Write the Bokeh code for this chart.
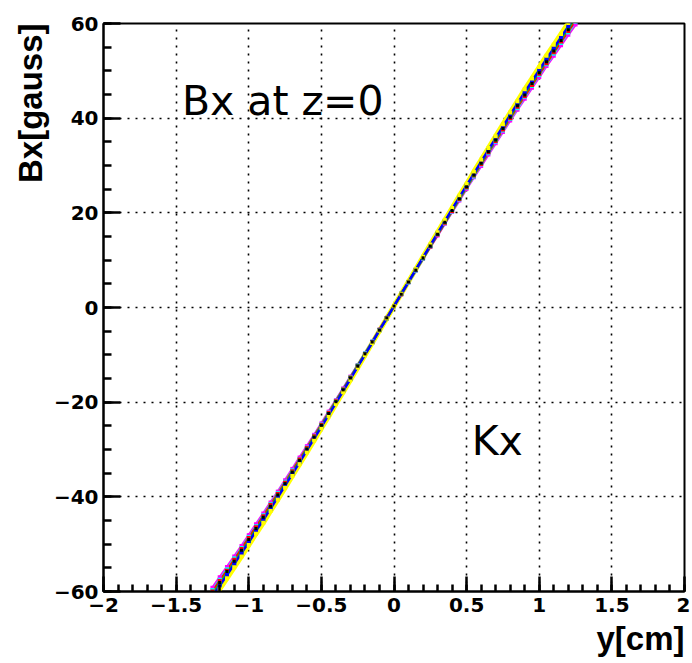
from bokeh.plotting import figure
from bokeh.models import (Range1d, SingleIntervalTicker, Title, Label,
                          ColumnDataSource, CustomJSTickFormatter)
from bokeh.embed import file_html
from bokeh.resources import INLINE

# ---- data ----
y_cm = [-1.25, -1.2, -1.15, -1.1, -1.05, -1.0, -0.95, -0.9, -0.85, -0.8,
        -0.75, -0.7, -0.65, -0.6, -0.55, -0.5, -0.45, -0.4, -0.35, -0.3,
        -0.25, -0.2, -0.15, -0.1, -0.05, 0.0, 0.05, 0.1, 0.15, 0.2,
        0.25, 0.3, 0.35, 0.4, 0.45, 0.5, 0.55, 0.6, 0.65, 0.7,
        0.75, 0.8, 0.85, 0.9, 0.95, 1.0, 1.05, 1.1, 1.15, 1.2, 1.25]

bx_black = [-60.3, -58.1, -55.8, -53.6, -51.3, -49.0, -46.7, -44.3, -42.0, -39.6,
            -37.2, -34.8, -32.3, -29.9, -27.4, -24.9, -22.4, -19.9, -17.4, -14.9,
            -12.4, -9.8, -7.3, -4.8, -2.2, 0.3, 2.8, 5.4, 7.9, 10.5,
            13.0, 15.5, 18.0, 20.5, 23.0, 25.5, 28.0, 30.5, 32.9, 35.4,
            37.8, 40.2, 42.6, 44.9, 47.3, 49.6, 51.9, 54.2, 56.4, 58.7, 60.9]
bx_yellow = [-61.8, -59.5, -57.2, -54.9, -52.6, -50.2, -47.8, -45.5, -43.0, -40.6,
             -38.1, -35.6, -33.1, -30.6, -28.1, -25.5, -23.0, -20.4, -17.9, -15.3,
             -12.7, -10.1, -7.5, -4.9, -2.3, 0.3, 2.9, 5.5, 8.1, 10.7,
             13.3, 15.9, 18.5, 21.0, 23.6, 26.1, 28.7, 31.2, 33.7, 36.2,
             38.7, 41.2, 43.6, 46.1, 48.4, 50.8, 53.2, 55.5, 57.8, 60.1, 62.4]
bx_blue = [-61.0, -58.8, -56.5, -54.2, -51.9, -49.6, -47.2, -44.9, -42.5, -40.1,
           -37.6, -35.2, -32.7, -30.2, -27.7, -25.2, -22.7, -20.2, -17.6, -15.1,
           -12.5, -10.0, -7.4, -4.8, -2.3, 0.3, 2.9, 5.4, 8.0, 10.6,
           13.1, 15.7, 18.2, 20.8, 23.3, 25.8, 28.3, 30.8, 33.3, 35.8,
           38.2, 40.7, 43.1, 45.5, 47.8, 50.2, 52.5, 54.8, 57.1, 59.4, 61.6]
bx_green = [-60.6, -58.4, -56.1, -53.9, -51.6, -49.3, -46.9, -44.6, -42.2, -39.8,
            -37.4, -34.9, -32.5, -30.0, -27.5, -25.0, -22.5, -20.0, -17.5, -15.0,
            -12.4, -9.9, -7.4, -4.8, -2.3, 0.3, 2.9, 5.4, 8.0, 10.5,
            13.0, 15.6, 18.1, 20.6, 23.1, 25.6, 28.1, 30.6, 33.1, 35.5,
            38.0, 40.4, 42.8, 45.2, 47.5, 49.9, 52.2, 54.5, 56.7, 59.0, 61.2]
bx_red = [-60.0, -57.8, -55.6, -53.3, -51.0, -48.7, -46.4, -44.1, -41.7, -39.4,
          -37.0, -34.6, -32.1, -29.7, -27.2, -24.8, -22.3, -19.8, -17.3, -14.8,
          -12.3, -9.8, -7.3, -4.7, -2.2, 0.3, 2.8, 5.4, 7.9, 10.4,
          12.9, 15.4, 17.9, 20.4, 22.9, 25.4, 27.9, 30.3, 32.8, 35.2,
          37.6, 40.0, 42.4, 44.7, 47.0, 49.4, 51.6, 53.9, 56.2, 58.4, 60.6]
bx_cyan = [-59.7, -57.5, -55.3, -53.0, -50.8, -48.5, -46.2, -43.9, -41.5, -39.2,
           -36.8, -34.4, -32.0, -29.6, -27.1, -24.7, -22.2, -19.7, -17.2, -14.7,
           -12.2, -9.7, -7.2, -4.7, -2.2, 0.3, 2.8, 5.3, 7.8, 10.3,
           12.9, 15.4, 17.8, 20.3, 22.8, 25.3, 27.7, 30.2, 32.6, 35.0,
           37.4, 39.8, 42.1, 44.5, 46.8, 49.1, 51.4, 53.6, 55.9, 58.1, 60.3]
bx_magenta = [-59.2, -57.0, -54.8, -52.6, -50.4, -48.1, -45.8, -43.5, -41.2, -38.9,
              -36.5, -34.1, -31.7, -29.3, -26.9, -24.5, -22.0, -19.6, -17.1, -14.6,
              -12.2, -9.7, -7.2, -4.7, -2.2, 0.3, 2.8, 5.3, 7.8, 10.3,
              12.8, 15.2, 17.7, 20.2, 22.6, 25.1, 27.5, 29.9, 32.3, 34.7,
              37.1, 39.5, 41.8, 44.1, 46.4, 48.7, 51.0, 53.2, 55.4, 57.6, 59.8]

colors = {"yellow": "#ffff00", "magenta": "#ff00ff", "cyan": "#00ffff",
          "red": "#ff0000", "green": "#00e000", "blue": "#0000ff", "black": "#000000"}
data = {"yellow": bx_yellow, "magenta": bx_magenta, "cyan": bx_cyan,
        "red": bx_red, "green": bx_green, "blue": bx_blue, "black": bx_black}

x_title = "y[cm]"
y_title = "Bx[gauss]"
note1 = "Bx at z=0"
note2 = "Kx"

# ---- figure ----
p = figure(width=690, height=662, x_range=Range1d(-2, 2), y_range=Range1d(-60, 60),
           output_backend="svg", toolbar_location=None,
           min_border_left=103, min_border_right=6, min_border_top=23,
           min_border_bottom=71)
p.background_fill_color = "white"
p.border_fill_color = "white"
p.outline_line_color = "black"
p.outline_line_width = 2

sources = {k: ColumnDataSource(data=dict(x=y_cm, y=v)) for k, v in data.items()}

p.line("x", "y", source=sources["yellow"], line_color=colors["yellow"], line_width=5)
for k in ("magenta", "cyan", "red", "green", "blue"):
    p.line("x", "y", source=sources[k], line_color=colors[k], line_width=2.5)
for k in ("magenta", "cyan", "red", "green", "blue", "yellow"):
    p.scatter("x", "y", source=sources[k], marker="square", size=4,
              fill_color=colors[k], line_color=None)
p.scatter("x", "y", source=sources["black"], marker="square", size=3,
          fill_color="black", line_color=None)

fmt = CustomJSTickFormatter(code="""
const v = Math.round(tick * 10) / 10;
return (v < 0 ? "\\u2212" : "") + String(Math.abs(v));
""")

p.xaxis.ticker = SingleIntervalTicker(interval=0.5, num_minor_ticks=5)
p.yaxis.ticker = SingleIntervalTicker(interval=20, num_minor_ticks=4)
for ax in (p.xaxis[0], p.yaxis[0]):
    ax.formatter = fmt
    ax.axis_line_color = "black"
    ax.axis_line_width = 2
    ax.major_tick_line_color = "black"
    ax.major_tick_line_width = 2.5
    ax.minor_tick_line_color = "black"
    ax.minor_tick_line_width = 2.5
    ax.major_tick_out = 0
    ax.minor_tick_out = 0
    ax.major_label_text_font = "DejaVu Sans"
    ax.major_label_text_font_style = "bold"
    ax.major_label_text_font_size = "20px"
    ax.major_label_text_color = "black"
p.xaxis.major_tick_in = 15
p.xaxis.minor_tick_in = 7
p.yaxis.major_tick_in = 17
p.yaxis.minor_tick_in = 8
p.xaxis.major_label_standoff = 6
p.yaxis.major_label_standoff = 5

for g in (p.xgrid[0], p.ygrid[0]):
    g.grid_line_color = "black"
    g.grid_line_width = 1.6
    g.grid_line_dash = "2 6"

tx = Title(text=x_title, align="right", text_font="Liberation Sans",
           text_font_style="bold", text_font_size="33px", text_color="black",
           standoff=6)
p.add_layout(tx, "below")
ty = Title(text=y_title, align="right", text_font="Liberation Sans",
           text_font_style="bold", text_font_size="33px", text_color="black",
           standoff=4)
p.add_layout(ty, "left")

p.add_layout(Label(x=-1.46, y=43.7, text=note1, text_font="DejaVu Sans",
                   text_font_size="41px", text_baseline="alphabetic",
                   text_color="black"))
p.add_layout(Label(x=0.535, y=-28.1, text=note2, text_font="DejaVu Sans",
                   text_font_size="41px", text_baseline="alphabetic",
                   text_color="black"))

open("out.html", "w").write(file_html(p, INLINE))
